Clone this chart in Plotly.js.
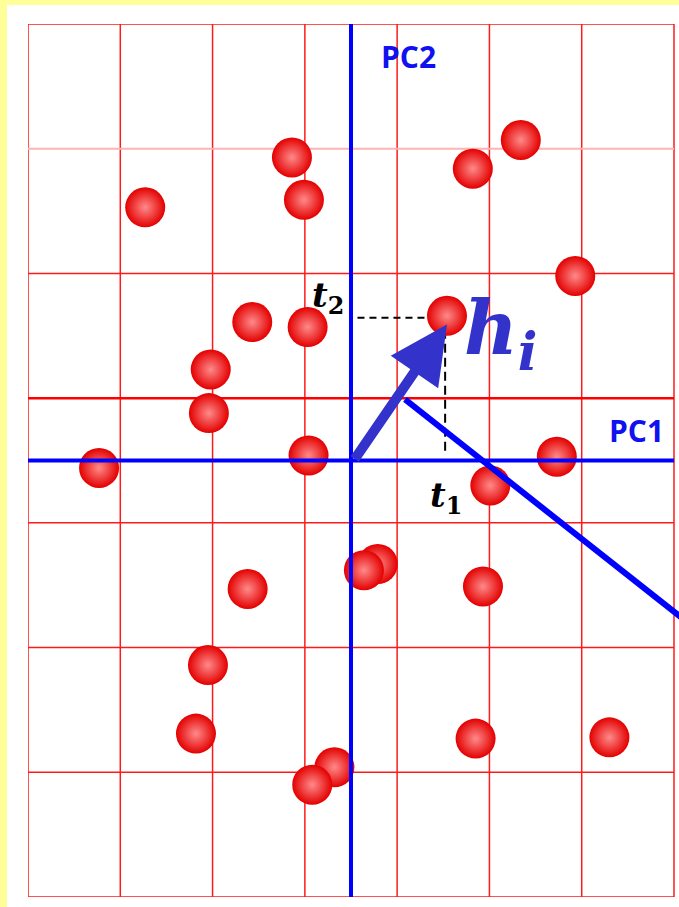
<!DOCTYPE html>
<html>
<head>
<meta charset="utf-8">
<script src="https://cdn.plot.ly/plotly-3.0.1.min.js"></script>
<style>html,body{margin:0;padding:0;background:#ffff99;}#chart{width:679px;height:907px;}</style>
</head>
<body>
<div id="chart"></div>
<script>
// Scores of observations on PC1 / PC2 (grid units)
const pc1Scores = [-2.23,-0.64,-0.51,1.32,1.84,2.43,1.04,-1.07,-0.47,-1.52,-1.54,-2.73,-0.46,2.23,1.51,0.29,0.14,-1.12,1.43,-1.55,-1.68,1.35,2.80,-0.18,-0.42];
const pc2Scores = [2.03,2.43,2.09,2.34,2.57,1.48,1.16,1.11,1.07,0.73,0.38,-0.06,0.04,0.03,-0.20,-0.83,-0.88,-1.03,-1.01,-1.64,-2.19,-2.23,-2.22,-2.46,-2.60];
// highlighted observation h_i (index into the arrays)
const hIndex = 6;
// grid positions
const gridX = [-3.5,-2.5,-1.5,-0.5,0.5,1.5,2.5,3.5];
const gridY = [-3.5,-2.5,-1.5,-0.5,0.5,1.5,2.5,3.5];
// another direction line (start and end)
const lineX = [0.585, 3.65];
const lineY = [0.49, -1.30];

const hx = pc1Scores[hIndex], hy = pc2Scores[hIndex];
const shapes = [];
shapes.push({type:'rect',xref:'paper',yref:'paper',x0:-21/651,x1:1,y0:-10/873,y1:1+19/873,fillcolor:'#ffffff',line:{width:0},layer:'below'});
gridX.forEach(v=>shapes.push({type:'line',xref:'x',yref:'y',x0:v,x1:v,y0:-3.5,y1:3.5,line:{color:'#ff1a1a',width:1.5},layer:'below'}));
gridY.forEach(v=>{
  let c='#ff1a1a', w=1.5;
  if (v===2.5){c='#ffb3b3'; w=2;}
  if (v===0.5){c='#ff0000'; w=2.5;}
  shapes.push({type:'line',xref:'x',yref:'y',x0:-3.5,x1:3.5,y0:v,y1:v,line:{color:c,width:w},layer:'below'});
});
// dashed projections
shapes.push({type:'line',xref:'x',yref:'y',x0:0.07,x1:hx,y0:hy-0.015,y1:hy-0.015,line:{color:'#000000',width:2,dash:'7px,5px'},layer:'below'});
shapes.push({type:'line',xref:'x',yref:'y',x0:hx-0.02,x1:hx-0.02,y0:hy,y1:0.04,line:{color:'#000000',width:2,dash:'9px,5px'},layer:'below'});
// PC axes
shapes.push({type:'line',xref:'x',yref:'y',x0:0,x1:0,y0:-3.5,y1:3.5,line:{color:'#0000ff',width:4}});
shapes.push({type:'line',xref:'x',yref:'y',x0:-3.5,x1:3.5,y0:0,y1:0,line:{color:'#0000ff',width:4}});
// diagonal line
shapes.push({type:'line',xref:'x',yref:'y',x0:lineX[0],x1:lineX[1],y0:lineY[0],y1:lineY[1],line:{color:'#0000ff',width:6}});

const trace = {
  x: pc1Scores, y: pc2Scores, mode:'markers', type:'scatter', hoverinfo:'skip',
  marker:{size:40,color:'#e30000',line:{width:0},gradient:{type:'radial',color:'#ff8a8a'}}
};

const annotations = [
  {x:hx,y:hy-0.07,ax:0.03,ay:0.0,xref:'x',yref:'y',axref:'x',ayref:'y',text:'',showarrow:true,arrowhead:2,arrowsize:1.15,arrowwidth:10,arrowcolor:'#3333cc'},
  {x:0.62,y:3.24,xref:'x',yref:'y',text:'<b>PC2</b>',showarrow:false,font:{family:'Open Sans, sans-serif',size:30,color:'#1010f0'}},
  {x:3.09,y:0.24,xref:'x',yref:'y',text:'<b>PC1</b>',showarrow:false,font:{family:'Open Sans, sans-serif',size:30,color:'#1010f0'}},
  {x:-0.25,y:1.31,xref:'x',yref:'y',text:'<b><i>t</i></b><sub><b>2</b></sub>',showarrow:false,font:{family:'DejaVu Serif, serif',size:34,color:'#000000'}},
  {x:1.03,y:-0.30,xref:'x',yref:'y',text:'<b><i>t</i></b><sub><b>1</b></sub>',showarrow:false,font:{family:'DejaVu Serif, serif',size:34,color:'#000000'}},
  {x:1.63,y:1.02,xref:'x',yref:'y',text:'<b><i>h</i></b><sub><b><i>i</i></b></sub>',showarrow:false,font:{family:'DejaVu Serif, serif',size:74,color:'#3333cc'}}
];

const layout = {
  width:679,height:907,
  margin:{l:28,r:0,t:24,b:10,pad:0},
  paper_bgcolor:'#ffff99',plot_bgcolor:'rgba(0,0,0,0)',
  showlegend:false,
  xaxis:{range:[-3.5,(679-28)/((674-28)/7)-3.5],showgrid:false,zeroline:false,showticklabels:false,ticks:'',showline:false,fixedrange:true},
  yaxis:{range:[-3.5,3.5],showgrid:false,zeroline:false,showticklabels:false,ticks:'',showline:false,fixedrange:true},
  shapes:shapes,annotations:annotations
};
Plotly.newPlot('chart',[trace],layout,{staticPlot:true,displayModeBar:false});
</script>
</body>
</html>
